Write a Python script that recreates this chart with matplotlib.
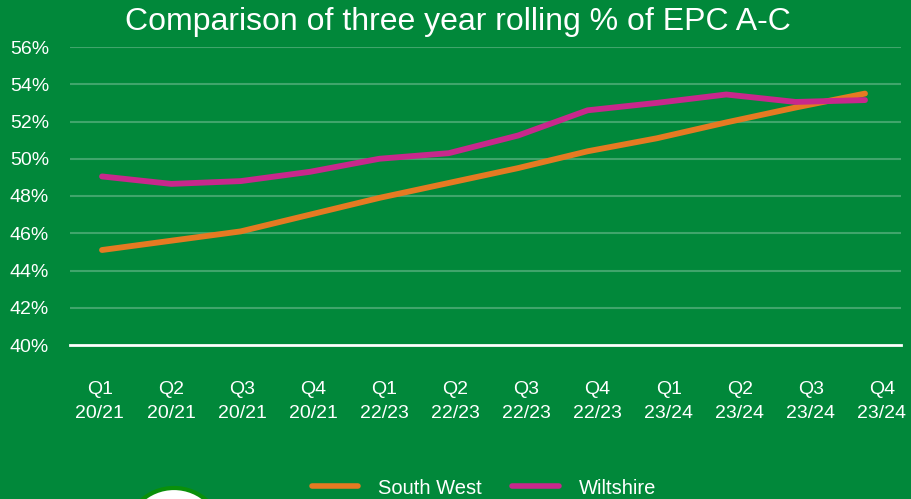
import matplotlib
matplotlib.use("Agg")
import matplotlib.pyplot as plt
from matplotlib.patches import Circle

quarters = ["Q1\n20/21", "Q2\n20/21", "Q3\n20/21", "Q4\n20/21",
            "Q1\n22/23", "Q2\n22/23", "Q3\n22/23", "Q4\n22/23",
            "Q1\n23/24", "Q2\n23/24", "Q3\n23/24", "Q4\n23/24"]
south_west = [45.1, 45.6, 46.1, 47.0, 47.9, 48.7, 49.5, 50.4, 51.1, 51.95, 52.75, 53.5]
wiltshire = [49.05, 48.65, 48.8, 49.3, 50.0, 50.3, 51.25, 52.6, 53.0, 53.45, 53.05, 53.15]
yticks = [40, 42, 44, 46, 48, 50, 52, 54, 56]

BG = "#01883A"
ORANGE = "#E57A22"
PINK = "#C8288C"

plt.rcParams['font.family'] = ['Liberation Sans', 'DejaVu Sans']

fig = plt.figure(figsize=(9.12, 4.99), dpi=100)
fig.patch.set_facecolor(BG)
ax = fig.add_axes([70/912, 1-345/499, (901-70)/912, (345-47)/499])
ax.set_facecolor(BG)

x = list(range(len(quarters)))
ax.plot(x, south_west, color=ORANGE, lw=4.2, solid_capstyle='round', label="South West", zorder=3)
ax.plot(x, wiltshire, color=PINK, lw=4.2, solid_capstyle='round', label="Wiltshire", zorder=3)

ax.set_xlim(-(102-70)/69.36, 11 + (901-865)/69.36)
ax.set_ylim(40, 56)
ax.set_yticks(yticks)
ax.set_yticklabels([f"{v}%" for v in yticks], color="white", fontsize=14)
for v in yticks:
    if v == 40:
        ax.axhline(v, color="white", lw=2, zorder=2, clip_on=False)
    else:
        ax.axhline(v, color="white", alpha=0.25, lw=1.5, zorder=1)
# category labels are spaced slightly wider than the plotted points in the original
ax.set_xticks([i * 1.025 - 0.03 for i in x])
ax.set_xticklabels(quarters, color="white", fontsize=14, linespacing=1.55)
ax.tick_params(axis='both', length=0)
ax.tick_params(axis='y', pad=15)
ax.tick_params(axis='x', pad=26)
for s in ax.spines.values():
    s.set_visible(False)

fig.text(458/912, 1-22/499, "Comparison of three year rolling % of EPC A-C",
         color="white", fontsize=23, ha="center", va="center")

leg = fig.legend(loc="center", bbox_to_anchor=(484/912, 1-488/499), ncol=2, frameon=False,
                 fontsize=14.5, labelcolor="white", handlelength=2.3, columnspacing=1.5,
                 handletextpad=1.0)
for line in leg.get_lines():
    line.set_linewidth(4)

circ = Circle((174, 499-537), 49, transform=None, facecolor="white",
              edgecolor="#0A900A", lw=3, zorder=5)
fig.patches.append(circ)

fig.savefig("out.png", dpi=100, facecolor=BG)
